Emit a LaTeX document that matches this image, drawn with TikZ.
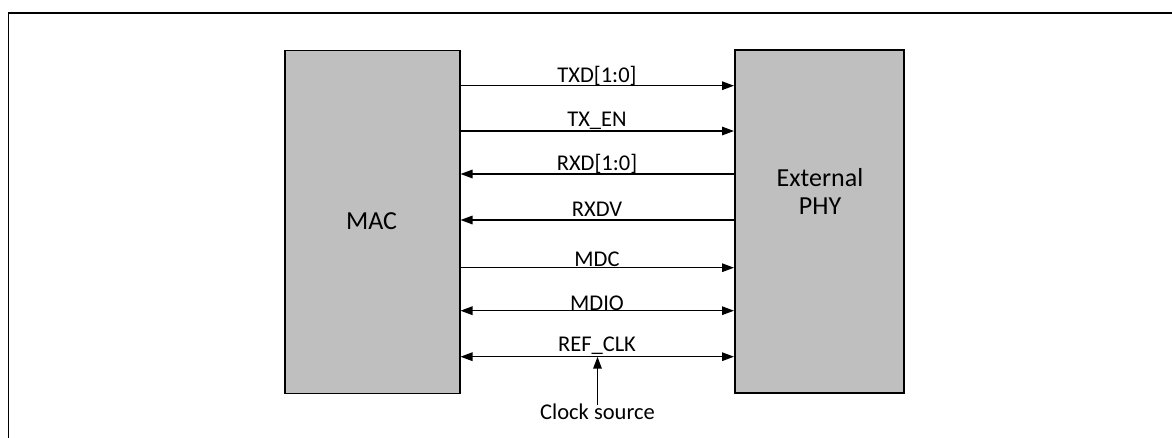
\documentclass[tikz,border=0pt]{standalone}
\usepackage{fontspec}
\setmainfont{Carlito}
\usetikzlibrary{arrows.meta}
\definecolor{boxgray}{RGB}{191,191,191}
\begin{document}
\begin{tikzpicture}[x=1pt,y=-1pt,
  blk/.style={draw=black,line width=1.5pt,fill=boxgray,inner sep=0pt,
    font=\fontsize{26}{27.4}\selectfont,align=center,anchor=north west},
  sig/.style={line width=1.5pt},
  tipr/.style={-{Triangle[length=12pt,width=8.5pt]}},
  tipl/.style={{Triangle[length=12pt,width=8.5pt]}-},
  tipb/.style={{Triangle[length=12pt,width=8.5pt]}-{Triangle[length=12pt,width=8.5pt]}},
  lbl/.style={anchor=base,inner sep=0pt,font=\fontsize{22.5}{24}\selectfont}
]
\useasboundingbox (0,0) rectangle (1172,437);
\clip (0,0) rectangle (1172,437);
\draw[line width=1.5pt] (8.5,13) rectangle (1190,460);

\node[blk,minimum width=175pt,minimum height=343pt] (mac) at (284,49.5) {};
\node[blk,minimum width=169pt,minimum height=343pt] (phy) at (734,49) {};
\node[font=\fontsize{26}{27.4}\selectfont,inner sep=0pt,anchor=base] (mact) at (371.5,229) {MAC};
\node[font=\fontsize{26}{27.4}\selectfont,inner sep=0pt,anchor=base,align=center] (phyt) at (820,214.3) {External\\PHY};

\coordinate (y1) at (0,85.7);
\coordinate (y2) at (0,131);
\coordinate (y3) at (0,174);
\coordinate (y4) at (0,220);
\coordinate (y5) at (0,267.7);
\coordinate (y6) at (0,310.7);
\coordinate (y7) at (0,356.7);

\draw[sig,tipr] (mac.east |- y1) -- (phy.west |- y1);
\draw[sig,tipr] (mac.east |- y2) -- (phy.west |- y2);
\draw[sig,tipl] (mac.east |- y3) -- (phy.west |- y3);
\draw[sig,tipl] (mac.east |- y4) -- (phy.west |- y4);
\draw[sig,tipr] (mac.east |- y5) -- (phy.west |- y5);
\draw[sig,tipb] (mac.east |- y6) -- (phy.west |- y6);
\draw[sig,tipb] (mac.east |- y7) -- (phy.west |- y7);

\node[lbl] (l1) at (597,82.7) {TXD[1:0]};
\node[lbl] (l2) at (597,126.7) {TX\_EN};
\node[lbl] (l3) at (597,170.7) {RXD[1:0]};
\node[lbl] (l4) at (597,216) {RXDV};
\node[lbl] (l5) at (597,266) {MDC};
\node[lbl] (l6) at (597,310) {MDIO};
\node[lbl] (l7) at (597,351.7) {REF\_CLK};

\node[lbl] (clk) at (597.5,419) {Clock source};
\draw[sig,tipr] ([yshift=-2pt]clk.north) -- (clk.north |- y7);
\end{tikzpicture}
\end{document}
